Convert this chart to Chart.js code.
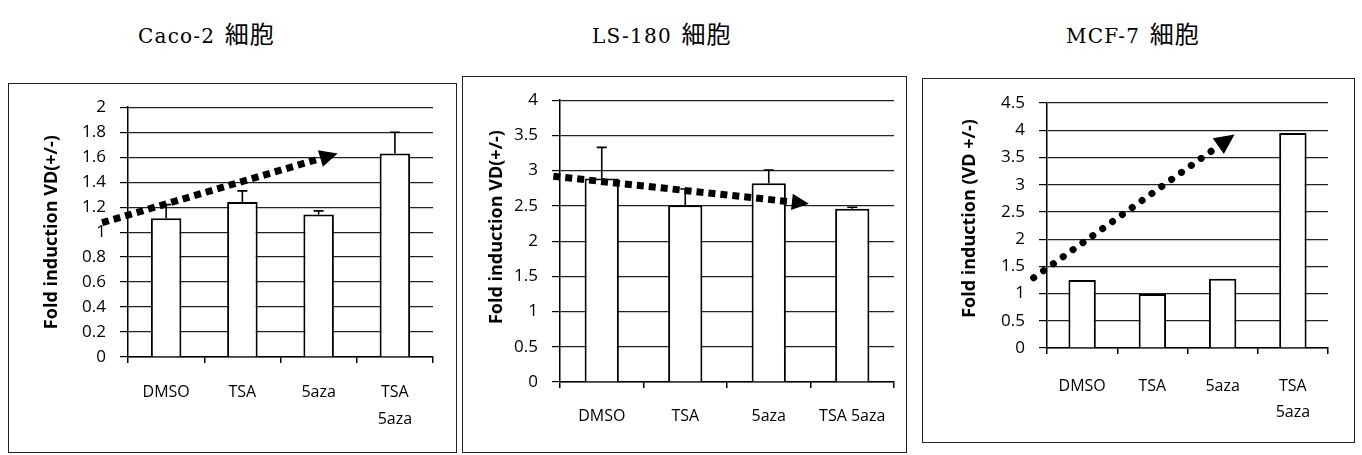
<!DOCTYPE html>
<html>

<head>
  <meta charset="utf-8">
  <style>
    body { margin: 0; background: #fff; width: 1362px; height: 455px; position: relative; overflow: hidden; }
    .title { position: absolute; top: 15px; font: 20px "DejaVu Serif", serif; letter-spacing: 1.2px; color: #000; line-height: 26px; white-space: nowrap; }
    .title span { font: 24px "Noto Sans CJK JP", sans-serif; letter-spacing: 1px; margin-left: 2px; }
    .box { position: absolute; border: 1px solid #222; box-sizing: border-box; }
    .box canvas { position: absolute; left: -1px; top: -1px; }
  </style>
</head>

<body>

  <div class="title" style="left: 138px">Caco-2 <span>細胞</span></div>
  <div class="title" style="left: 592px">LS-180 <span>細胞</span></div>
  <div class="title" style="left: 1066px">MCF-7 <span>細胞</span></div>

  <div class="box" style="left: 8px; top: 83px; width: 449px; height: 370px">
    <canvas id="caco2" width="449" height="370"></canvas>
  </div>
  <div class="box" style="left: 462px; top: 76px; width: 445px; height: 377px">
    <canvas id="ls180" width="445" height="377"></canvas>
  </div>
  <div class="box" style="left: 922px; top: 78px; width: 433px; height: 365px">
    <canvas id="mcf7" width="433" height="365"></canvas>
  </div>

  <script src="https://cdn.jsdelivr.net/npm/chart.js@4.4.1/dist/chart.umd.min.js"></script>
  <script type="text/javascript">
    // data
    var caco2Labels = ['DMSO', 'TSA', '5aza', ['TSA', '5aza']];
    var caco2Values = [1.11, 1.24, 1.14, 1.63];
    var caco2Errors = [0.11, 0.09, 0.03, 0.17];
    var caco2Ticks = [0, 0.2, 0.4, 0.6, 0.8, 1, 1.2, 1.4, 1.6, 1.8, 2];
    var caco2Arrow = [[-0.84, 1.075], [2.25, 1.63]];

    var ls180Labels = ['DMSO', 'TSA', '5aza', 'TSA 5aza'];
    var ls180Values = [2.89, 2.51, 2.82, 2.46];
    var ls180Errors = [0.44, 0.23, 0.19, 0.02];
    var ls180Ticks = [0, 0.5, 1, 1.5, 2, 2.5, 3, 3.5, 4];
    var ls180Arrow = [[-0.58, 2.92], [2.48, 2.53]];

    var mcf7Labels = ['DMSO', 'TSA', '5aza', ['TSA', '5aza']];
    var mcf7Values = [1.25, 0.99, 1.27, 3.95];
    var mcf7Ticks = [0, 0.5, 1, 1.5, 2, 2.5, 3, 3.5, 4, 4.5];
    var mcf7Arrow = [[-0.69, 1.29], [2.17, 3.92]];

    Chart.defaults.font.family = '"Open Sans", sans-serif';
    Chart.defaults.color = '#000';

    var errorBars = {
      id: 'errorBars',
      afterDatasetsDraw: function(chart, args, opts) {
        if (!opts.errors) return;
        var meta = chart.getDatasetMeta(0);
        var y = chart.scales.y;
        var ctx = chart.ctx;
        ctx.save();
        ctx.strokeStyle = '#000';
        ctx.lineWidth = 1.6;
        meta.data.forEach(function(bar, i) {
          var v = chart.data.datasets[0].data[i];
          var top = y.getPixelForValue(v + opts.errors[i]);
          ctx.beginPath();
          ctx.moveTo(bar.x, bar.y);
          ctx.lineTo(bar.x, top);
          ctx.moveTo(bar.x - 5, top);
          ctx.lineTo(bar.x + 5, top);
          ctx.stroke();
        });
        ctx.restore();
      }
    };

    // dotted trend arrow, end points given in category index / value units
    var trendArrow = {
      id: 'trendArrow',
      afterDraw: function(chart, args, opts) {
        var xs = chart.scales.x, ys = chart.scales.y, ctx = chart.ctx;
        var x1 = xs.getPixelForValue(opts.from[0]), y1 = ys.getPixelForValue(opts.from[1]);
        var x2 = xs.getPixelForValue(opts.to[0]), y2 = ys.getPixelForValue(opts.to[1]);
        var ang = Math.atan2(y2 - y1, x2 - x1);
        var head = opts.head;
        var bx = x2 - Math.cos(ang) * head, by = y2 - Math.sin(ang) * head;
        ctx.save();
        ctx.strokeStyle = '#000';
        ctx.fillStyle = '#000';
        ctx.lineWidth = opts.width;
        ctx.setLineDash(opts.dash);
        ctx.lineCap = opts.round ? 'round' : 'butt';
        ctx.beginPath();
        ctx.moveTo(x1, y1);
        ctx.lineTo(bx, by);
        ctx.stroke();
        ctx.setLineDash([]);
        ctx.translate(x2, y2);
        ctx.rotate(ang);
        ctx.beginPath();
        ctx.moveTo(0, 0);
        ctx.lineTo(-head, -head * 0.48);
        ctx.lineTo(-head, head * 0.48);
        ctx.closePath();
        ctx.fill();
        ctx.restore();
      }
    };

    function makeChart(id, labels, values, errors, ticks, arrow, o) {
      var ctx = document.getElementById(id).getContext('2d');
      return new Chart(ctx, {
        type: 'bar',
        data: {
          labels: labels,
          datasets: [{
            data: values,
            backgroundColor: '#fff',
            borderColor: '#000',
            borderWidth: 2,
            categoryPercentage: 1,
            barPercentage: o.barPct
          }]
        },
        options: {
          responsive: false,
          animation: false,
          layout: { padding: { left: 0, top: o.padTop, right: o.padRight, bottom: 0 } },
          plugins: {
            legend: { display: false },
            tooltip: { enabled: false },
            errorBars: { errors: errors },
            trendArrow: { from: arrow[0], to: arrow[1], width: o.arrowWidth, dash: o.dash, round: o.round, head: o.head }
          },
          scales: {
            x: {
              grid: { offset: true, drawOnChartArea: false, tickLength: 6, color: '#000', lineWidth: 1.5 },
              border: { color: '#000', width: 1.5 },
              ticks: { font: { size: 16 , lineHeight: o.lineHeight }, padding: o.labelPad, maxRotation: 0, autoSkip: false },
              afterFit: function(s) { s.height = o.xHeight; }
            },
            y: {
              min: ticks[0],
              max: ticks[ticks.length - 1],
              grid: { color: '#222', lineWidth: 1.2, tickLength: 8, tickColor: '#000' },
              border: { color: '#000', width: 1.5 },
              ticks: {
                font: { size: 17 },
                padding: 14,
                autoSkip: false,
                callback: function(v) { return String(v); }
              },
              afterBuildTicks: function(s) {
                s.ticks = ticks.map(function(v) { return { value: v }; });
              },
              title: {
                display: true,
                text: o.yTitle,
                font: { size: 18, weight: 'bold' },
                padding: { top: o.titlePad, bottom: 0 }
              },
              afterFit: function(s) { s.width = o.yWidth; }
            }
          }
        },
        plugins: [errorBars, trendArrow]
      });
    }

    // leading spaces nudge the rotated axis title upward to sit where the original has it
    makeChart('caco2', caco2Labels, caco2Values, caco2Errors, caco2Ticks, caco2Arrow, {
      barPct: 0.4, padTop: 20, padRight: 24, yWidth: 120, xHeight: 96,
      labelPad: 16, lineHeight: '27px', titlePad: 33, yTitle: 'Fold induction VD(+/-)',
      arrowWidth: 7, dash: [7, 5], round: false, head: 18
    });

    makeChart('ls180', ls180Labels, ls180Values, ls180Errors, ls180Ticks, ls180Arrow, {
      barPct: 0.41, padTop: 22, padRight: 13, yWidth: 98, xHeight: 71,
      labelPad: 19, lineHeight: 1.2, titlePad: 24, yTitle: '      Fold induction VD(+/-)',
      arrowWidth: 7, dash: [7, 5], round: false, head: 17
    });

    makeChart('mcf7', mcf7Labels, mcf7Values, null, mcf7Ticks, mcf7Arrow, {
      barPct: 0.39, padTop: 25, padRight: 27, yWidth: 125, xHeight: 95,
      labelPad: 19, lineHeight: '26px', titlePad: 37, yTitle: '   Fold induction (VD +/-)',
      arrowWidth: 7, dash: [0.1, 12], round: true, head: 20
    });
  </script>
</body>

</html>
